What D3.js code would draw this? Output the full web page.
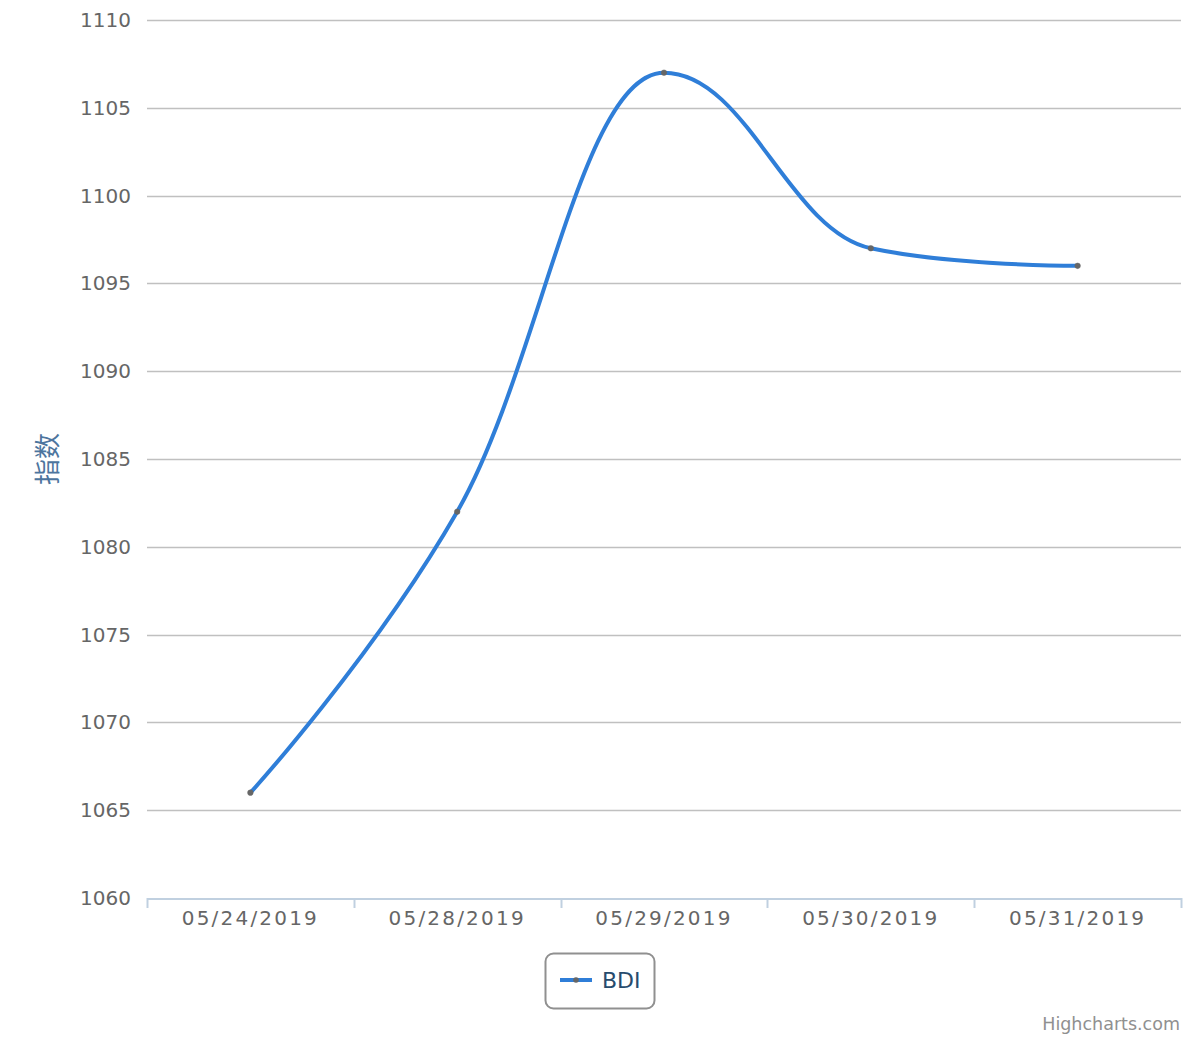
<!DOCTYPE html>
<html><head><meta charset="utf-8">
<script src="https://cdn.jsdelivr.net/npm/d3@7"></script>
<style>
html,body{margin:0;padding:0;background:#fff;}
svg{display:block;font-family:"DejaVu Sans",sans-serif;}
</style></head>
<body>
<svg id="chart" width="1200" height="1040"></svg>
<script>
const categories = ["05/24/2019","05/28/2019","05/29/2019","05/30/2019","05/31/2019"];
const bdiValues = [1066, 1082, 1107, 1097, 1096];
const yTicks = [1060,1065,1070,1075,1080,1085,1090,1095,1100,1105,1110];
const seriesName = "BDI";
const yTitle = "指数";

(function () {
const svg = d3.select("#chart");
const plotL = 147, plotR = 1181, plotT = 20, plotB = 898;

const x = d3.scaleBand().domain(categories).range([plotL, plotR]).padding(0);
const y = d3.scaleLinear().domain([1060, 1110]).range([plotB, plotT]);

// grid
svg.append("g").selectAll("line").data(yTicks.filter(t => t !== 1060)).join("line")
  .attr("x1", plotL).attr("x2", plotR)
  .attr("y1", d => Math.round(y(d)) + 0.5).attr("y2", d => Math.round(y(d)) + 0.5)
  .attr("stroke", "#C0C0C0").attr("stroke-width", 1.5);

// y labels
svg.append("g").selectAll("text").data(yTicks).join("text")
  .attr("x", 131).attr("y", d => y(d) + 7)
  .attr("text-anchor", "end").attr("font-size", 20).attr("fill", "#666")
  .text(d => d);

// y title
svg.append("text")
  .attr("transform", `translate(57,${(plotT + plotB) / 2}) rotate(-90)`)
  .attr("text-anchor", "middle").attr("font-size", 26).attr("fill", "#4d759e")
  .attr("font-family", "'Noto Sans CJK SC', sans-serif")
  .text(yTitle);

// x axis
const xg = svg.append("g");
xg.append("line").attr("x1", plotL).attr("x2", plotR).attr("y1", plotB + 1).attr("y2", plotB + 1)
  .attr("stroke", "#C0D0E0").attr("stroke-width", 2);
const tickPos = categories.map(c => x(c)).concat([x(categories[categories.length - 1]) + x.bandwidth()]);
xg.selectAll("line.tick").data(tickPos).join("line").attr("class", "tick")
  .attr("x1", d => Math.round(d) + 0.5).attr("x2", d => Math.round(d) + 0.5)
  .attr("y1", plotB).attr("y2", plotB + 10)
  .attr("stroke", "#C0D0E0").attr("stroke-width", 2);
xg.selectAll("text").data(categories).join("text")
  .attr("x", d => x(d) + x.bandwidth() / 2).attr("y", plotB + 27)
  .attr("text-anchor", "middle").attr("font-size", 20).attr("fill", "#666")
  .attr("letter-spacing", 2.2)
  .text(d => d);

// Highcharts-style spline
const pts = categories.map((c, i) => ({ px: x(c) + x.bandwidth() / 2, py: y(bdiValues[i]) }));
const smoothing = 1.5, denom = smoothing + 1;
const p = d3.path();
pts.forEach((pt, i) => {
  if (i === 0) { p.moveTo(pt.px, pt.py); return; }
  const last = pts[i - 1], next = pts[i + 1];
  let lcx = pt.px, lcy = pt.py;
  if (next) {
    lcx = (smoothing * pt.px + last.px) / denom;
    lcy = (smoothing * pt.py + last.py) / denom;
    const rcx = (smoothing * pt.px + next.px) / denom;
    let rcy = (smoothing * pt.py + next.py) / denom;
    let corr = 0;
    if (rcx !== lcx) corr = ((rcy - lcy) * (rcx - pt.px)) / (rcx - lcx) + pt.py - rcy;
    lcy += corr; rcy += corr;
    if (lcy > last.py && lcy > pt.py) { lcy = Math.max(last.py, pt.py); rcy = 2 * pt.py - lcy; }
    else if (lcy < last.py && lcy < pt.py) { lcy = Math.min(last.py, pt.py); rcy = 2 * pt.py - lcy; }
    if (rcy > next.py && rcy > pt.py) { rcy = Math.max(next.py, pt.py); lcy = 2 * pt.py - rcy; }
    else if (rcy < next.py && rcy < pt.py) { rcy = Math.min(next.py, pt.py); lcy = 2 * pt.py - rcy; }
    pt.rcx = rcx; pt.rcy = rcy;
  }
  p.bezierCurveTo(last.rcx ?? last.px, last.rcy ?? last.py, lcx, lcy, pt.px, pt.py);
});
svg.append("path").attr("d", p.toString()).attr("fill", "none")
  .attr("stroke", "#2f7ed8").attr("stroke-width", 4).attr("stroke-linejoin", "round").attr("stroke-linecap", "round");

svg.append("g").selectAll("circle").data(pts).join("circle")
  .attr("cx", d => d.px).attr("cy", d => d.py).attr("r", 2.8)
  .attr("fill", "#666").attr("stroke", "#666").attr("stroke-width", 0.5);

// legend
const lg = svg.append("g");
lg.append("rect").attr("x", 545.5).attr("y", 953.5).attr("width", 109).attr("height", 55)
  .attr("rx", 8).attr("fill", "#fff").attr("stroke", "#909090").attr("stroke-width", 2);
lg.append("line").attr("x1", 560).attr("x2", 592).attr("y1", 980).attr("y2", 980)
  .attr("stroke", "#2f7ed8").attr("stroke-width", 4);
lg.append("circle").attr("cx", 576).attr("cy", 980).attr("r", 2.8).attr("fill", "#666");
lg.append("text").attr("x", 602).attr("y", 988).attr("font-size", 22).attr("fill", "#274b6d").text(seriesName);

// credits
svg.append("text").attr("x", 1180).attr("y", 1030).attr("text-anchor", "end")
  .attr("font-size", 17.5).attr("fill", "#909090").text("Highcharts.com");
})();
</script>
</body></html>
